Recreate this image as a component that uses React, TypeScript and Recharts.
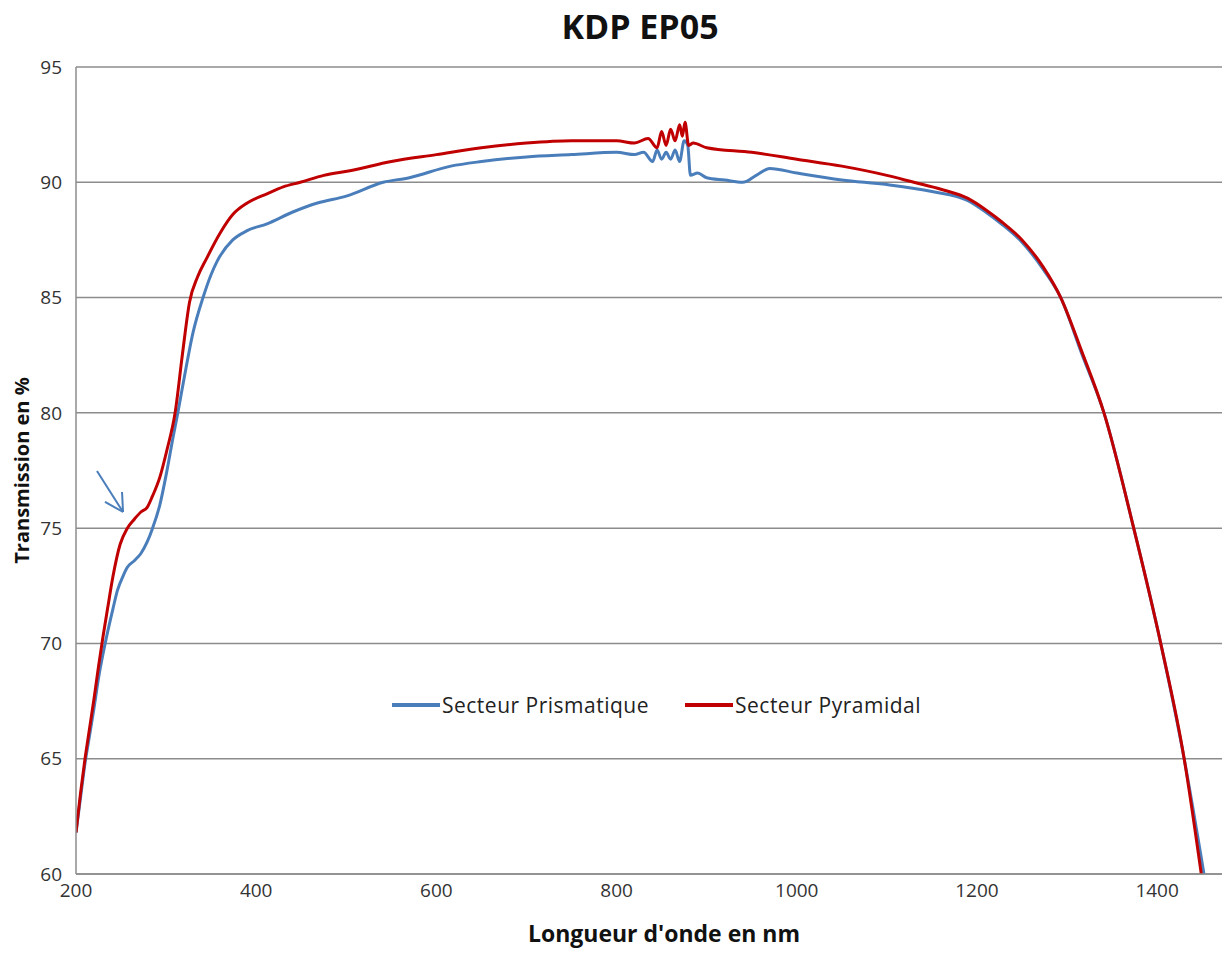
import React from "react";
import {
  LineChart,
  Line,
  XAxis,
  YAxis,
  CartesianGrid,
  ReferenceLine,
  Legend,
} from "recharts";

const prismNm = [200, 205, 210, 215, 220, 225, 234, 241, 246, 252, 257, 265, 272, 279, 285, 293, 301, 308, 313, 320, 330, 341, 350, 357, 374, 390, 412, 440, 468, 500, 541, 570, 616, 650, 700, 750, 800, 820, 830, 840, 845, 850, 855, 860, 865, 870, 875, 879, 882, 890, 900, 920, 940, 955, 970, 1000, 1050, 1100, 1150, 1190, 1210, 1227, 1250, 1274, 1293, 1316, 1341, 1374, 1404, 1430, 1452];
const prismT = [61.8, 63.3, 64.8, 66.0, 67.2, 68.5, 70.3, 71.5, 72.3, 72.9, 73.3, 73.6, 73.9, 74.4, 75.0, 76.0, 77.5, 79.0, 80.0, 81.5, 83.5, 85.0, 86.0, 86.6, 87.5, 87.9, 88.2, 88.7, 89.1, 89.4, 90.0, 90.2, 90.7, 90.9, 91.1, 91.2, 91.3, 91.2, 91.3, 90.9, 91.4, 91.0, 91.3, 91.0, 91.4, 90.9, 91.8, 91.6, 90.3, 90.4, 90.2, 90.1, 90.0, 90.3, 90.6, 90.4, 90.1, 89.9, 89.6, 89.2, 88.7, 88.2, 87.4, 86.2, 85.0, 82.6, 80.0, 75.0, 70.0, 65.0, 60.0];

const pyraNm = [200, 205, 210, 215, 220, 225, 230, 235, 241, 249, 257, 265, 272, 279, 285, 293, 301, 310, 318, 326, 335, 345, 360, 374, 390, 412, 430, 449, 475, 504, 550, 600, 650, 700, 750, 800, 820, 835, 845, 850, 855, 860, 865, 870, 873, 876, 880, 885, 900, 950, 1000, 1050, 1100, 1130, 1160, 1190, 1210, 1227, 1250, 1274, 1293, 1316, 1341, 1374, 1404, 1430, 1449];
const pyraT = [61.8, 63.5, 65.0, 66.3, 67.6, 69.0, 70.3, 71.5, 72.9, 74.3, 75.0, 75.4, 75.7, 75.9, 76.4, 77.2, 78.4, 80.0, 82.5, 84.8, 85.9, 86.7, 87.8, 88.6, 89.1, 89.5, 89.8, 90.0, 90.3, 90.5, 90.9, 91.2, 91.5, 91.7, 91.8, 91.8, 91.7, 91.9, 91.5, 92.2, 91.6, 92.3, 91.8, 92.5, 92.0, 92.6, 91.6, 91.7, 91.5, 91.3, 91.0, 90.7, 90.3, 90.0, 89.7, 89.3, 88.8, 88.3, 87.5, 86.3, 85.0, 82.7, 80.0, 75.0, 70.0, 65.0, 60.0];

const xTicks = [200, 400, 600, 800, 1000, 1200, 1400];
const yTicks = [60, 65, 70, 75, 80, 85, 90, 95];

// annotation arrow (data units): tail, tip, wing1, wing2
const arrowNm = [223.3, 252.2, 251.1, 232.2];
const arrowT = [77.48, 75.7, 76.57, 76.14];

const prismData = prismNm.map((x, i) => ({ x, y: prismT[i] }));
const pyraData = pyraNm.map((x, i) => ({ x, y: pyraT[i] }));

const FONT = "'Open Sans', sans-serif";
const BLUE = "#4a7ebb";
const RED = "#c00000";

const LegendContent = () => (
  <div style={{ display: "flex", alignItems: "center", fontFamily: FONT, fontSize: 21, letterSpacing: 0.5, color: "#222", whiteSpace: "nowrap" }}>
    <span style={{ display: "inline-block", width: 48, height: 4, background: BLUE, marginRight: 2 }} />
    <span>Secteur Prismatique</span>
    <span style={{ display: "inline-block", width: 48, height: 4, background: RED, marginLeft: 36, marginRight: 2 }} />
    <span>Secteur Pyramidal</span>
  </div>
);

export default function App() {
  return (
    <div style={{ position: "absolute", left: 0, top: 0, width: 1224, height: 958, background: "#fff" }}>
      <div
        style={{
          position: "absolute",
          left: 0,
          top: 3,
          width: 1280,
          textAlign: "center",
          fontFamily: FONT,
          fontWeight: 700,
          fontSize: 34,
          color: "#111",
          zIndex: 2,
        }}
      >
        KDP EP05
      </div>
      <LineChart
        width={1224}
        height={958}
        margin={{ top: 67, right: 2, bottom: 44, left: 16 }}
        style={{ position: "absolute", left: 0, top: 0 }}
      >
        <CartesianGrid vertical={false} stroke="#8c8c8c" strokeWidth={1.5} />
        <XAxis
          type="number"
          dataKey="x"
          domain={[200, 1472]}
          ticks={xTicks}
          allowDataOverflow
          stroke="#8c8c8c"
          strokeWidth={1.5}
          tickLine={false}
          tick={{ fill: "#333", fontSize: 19, fontFamily: FONT }}
          tickMargin={4}
          height={40}
          label={{
            value: "Longueur d'onde en nm",
            position: "insideBottom",
            offset: -28,
            dx: 15,
            style: { fontFamily: FONT, fontWeight: 700, fontSize: 23, fill: "#111" },
          }}
        />
        <YAxis
          type="number"
          domain={[60, 95]}
          ticks={yTicks}
          allowDataOverflow
          stroke="#8c8c8c"
          strokeWidth={1.5}
          tickLine={false}
          width={60}
          tick={{ fill: "#333", fontSize: 19, fontFamily: FONT }}
          tickMargin={8}
          label={{
            value: "Transmission en %",
            angle: -90,
            position: "insideLeft",
            offset: 6,
            style: { fontFamily: FONT, fontWeight: 700, fontSize: 20, fill: "#111", textAnchor: "middle" },
          }}
        />
        <Legend
          verticalAlign="middle"
          align="center"
          wrapperStyle={{ top: 691, left: 392, width: 640, height: 30 }}
          content={<LegendContent />}
        />
        <Line
          data={prismData}
          dataKey="y"
          name="Secteur Prismatique"
          stroke={BLUE}
          strokeWidth={3}
          dot={false}
          isAnimationActive={false}
          type="monotone"
        />
        <Line
          data={pyraData}
          dataKey="y"
          name="Secteur Pyramidal"
          stroke={RED}
          strokeWidth={3}
          dot={false}
          isAnimationActive={false}
          type="monotone"
        />
        <ReferenceLine
          segment={[{ x: arrowNm[0], y: arrowT[0] }, { x: arrowNm[1], y: arrowT[1] }]}
          stroke={BLUE}
          strokeWidth={2}
        />
        <ReferenceLine
          segment={[{ x: arrowNm[2], y: arrowT[2] }, { x: arrowNm[1], y: arrowT[1] }]}
          stroke={BLUE}
          strokeWidth={2}
        />
        <ReferenceLine
          segment={[{ x: arrowNm[3], y: arrowT[3] }, { x: arrowNm[1], y: arrowT[1] }]}
          stroke={BLUE}
          strokeWidth={2}
        />
      </LineChart>
    </div>
  );
}
